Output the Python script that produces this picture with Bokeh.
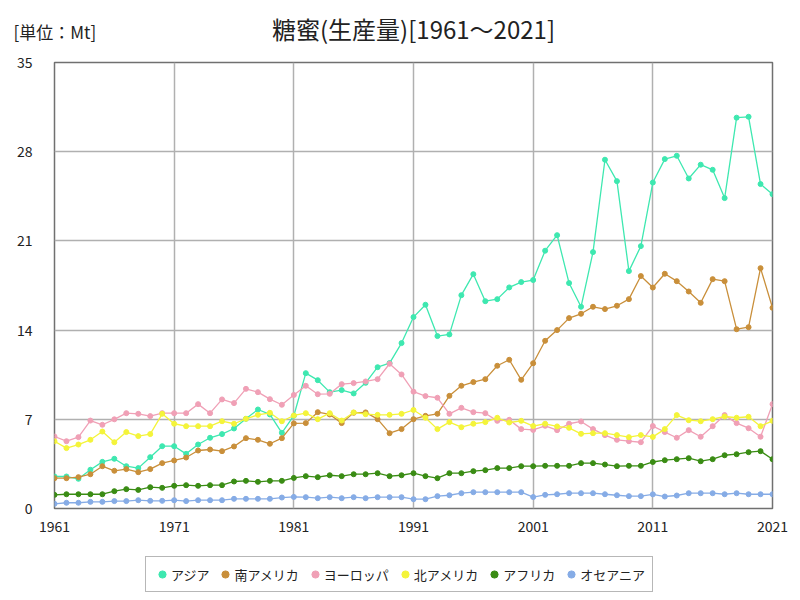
from bokeh.plotting import figure
from bokeh.models import FixedTicker, Legend, LegendItem, Label
from bokeh.layouts import column
from bokeh.embed import file_html
from bokeh.resources import INLINE

years = list(range(1961, 2022))

asia = [2.51, 2.51, 2.33, 3.04, 3.66, 3.90, 3.32, 3.17, 4.03, 4.89,
        4.89, 4.29, 5.02, 5.55, 5.84, 6.28, 7.04, 7.77, 7.38, 5.94,
        7.28, 10.62, 10.07, 9.13, 9.29, 9.03, 9.86, 11.09, 11.41, 12.98,
        15.02, 15.99, 13.53, 13.66, 16.74, 18.39, 16.27, 16.43, 17.35, 17.77,
        17.93, 20.23, 21.45, 17.69, 15.83, 20.12, 27.37, 25.69, 18.63, 20.59,
        25.58, 27.42, 27.68, 25.90, 26.98, 26.58, 24.36, 30.67, 30.74, 25.46,
        24.67]
south_america = [2.38, 2.38, 2.46, 2.69, 3.32, 2.96, 3.09, 2.85, 3.09, 3.56,
                 3.77, 4.00, 4.55, 4.63, 4.50, 4.87, 5.52, 5.39, 5.08, 5.52,
                 6.68, 6.70, 7.56, 7.38, 6.70, 7.51, 7.54, 7.01, 5.91, 6.23,
                 7.01, 7.27, 7.43, 8.84, 9.63, 9.92, 10.15, 11.20, 11.67, 10.10,
                 11.40, 13.16, 14.00, 14.94, 15.28, 15.83, 15.65, 15.91, 16.43, 18.24,
                 17.34, 18.42, 17.84, 17.03, 16.14, 18.00, 17.84, 14.07, 14.23, 18.86,
                 15.75]
europe = [5.65, 5.28, 5.60, 6.90, 6.57, 7.00, 7.48, 7.43, 7.25, 7.48,
          7.48, 7.48, 8.19, 7.48, 8.56, 8.27, 9.39, 9.13, 8.58, 8.14,
          8.91, 9.63, 8.97, 9.00, 9.76, 9.84, 9.97, 10.15, 11.36, 10.52,
          9.17, 8.82, 8.69, 7.43, 7.90, 7.56, 7.48, 6.88, 6.96, 6.23,
          6.17, 6.49, 6.15, 6.65, 6.83, 6.23, 5.76, 5.39, 5.28, 5.20,
          6.47, 6.00, 5.55, 6.15, 5.63, 6.46, 7.33, 6.70, 6.30, 5.63,
          8.19]
north_america = [5.28, 4.74, 5.02, 5.39, 6.04, 5.20, 6.00, 5.68, 5.84, 7.43,
                 6.65, 6.46, 6.46, 6.46, 6.85, 6.65, 7.04, 7.35, 7.51, 6.85,
                 7.30, 7.48, 7.01, 7.48, 6.90, 7.54, 7.40, 7.35, 7.35, 7.43,
                 7.73, 7.12, 6.23, 6.78, 6.38, 6.65, 6.78, 7.12, 6.75, 6.88,
                 6.47, 6.65, 6.44, 6.33, 5.86, 5.91, 5.91, 5.76, 5.60, 5.76,
                 5.62, 6.23, 7.33, 6.93, 6.85, 7.01, 7.22, 7.12, 7.20, 6.46,
                 6.88]
africa = [1.07, 1.12, 1.12, 1.12, 1.12, 1.36, 1.52, 1.46, 1.67, 1.62,
          1.78, 1.83, 1.78, 1.83, 1.83, 2.12, 2.17, 2.09, 2.17, 2.17,
          2.40, 2.54, 2.46, 2.61, 2.54, 2.69, 2.69, 2.77, 2.54, 2.61,
          2.77, 2.54, 2.38, 2.77, 2.77, 2.93, 3.01, 3.17, 3.17, 3.32,
          3.32, 3.35, 3.35, 3.35, 3.56, 3.56, 3.45, 3.32, 3.35, 3.35,
          3.65, 3.79, 3.87, 3.95, 3.71, 3.87, 4.18, 4.26, 4.42, 4.50,
          3.87]
oceania = [0.37, 0.45, 0.45, 0.52, 0.52, 0.58, 0.58, 0.65, 0.60, 0.60,
           0.65, 0.58, 0.65, 0.65, 0.65, 0.76, 0.76, 0.76, 0.76, 0.86,
           0.91, 0.89, 0.81, 0.89, 0.81, 0.89, 0.81, 0.89, 0.89, 0.89,
           0.73, 0.73, 0.97, 1.04, 1.20, 1.28, 1.28, 1.28, 1.28, 1.28,
           0.90, 1.07, 1.12, 1.20, 1.20, 1.20, 1.12, 1.04, 0.97, 0.97,
           1.11, 0.94, 1.02, 1.20, 1.20, 1.20, 1.12, 1.20, 1.12, 1.12,
           1.12]

series_names = ["アジア", "南アメリカ", "ヨーロッパ", "北アメリカ", "アフリカ", "オセアニア"]
series_values = [asia, south_america, europe, north_america, africa, oceania]
series_colors = ["#3ee8b0", "#c98f3a", "#f0a0b6", "#f4f43a", "#3a8c14", "#86ace6"]

y_ticks = [0, 7, 14, 21, 28, 35]
x_ticks = [1961, 1971, 1981, 1991, 2001, 2011, 2021]

title_text = "糖蜜(生産量)[1961～2021]"
unit_text = "[単位：Mt]"

FONT = "Noto Sans CJK JP"
TXT = "#222222"


def no_frame_align(f):
    try:
        f.frame_align = False
    except Exception:
        pass


def blank_panel(h):
    f = figure(width=800, height=h, x_range=(0, 800), y_range=(0, h),
               x_axis_type=None, y_axis_type=None, toolbar_location=None,
               output_backend="svg", min_border=0,
               min_border_left=0, min_border_right=0,
               min_border_top=0, min_border_bottom=0)
    f.outline_line_color = None
    f.background_fill_color = "white"
    f.border_fill_color = "white"
    f.grid.visible = False
    no_frame_align(f)
    return f


# ---- header: title and unit ----
header = blank_panel(50)
header.add_layout(Label(x=413, y=22, text=title_text, text_align="center",
                        text_baseline="middle", text_font=FONT,
                        text_font_size="24px", text_color=TXT))
header.add_layout(Label(x=13, y=19, text=unit_text, text_align="left",
                        text_baseline="middle", text_font=FONT,
                        text_font_size="17px", text_color=TXT))

# ---- main plot ----
p = figure(frame_width=718, frame_height=446, output_backend="svg", toolbar_location=None,
           x_range=(1961, 2021), y_range=(0, 35),
           min_border_left=54, min_border_right=28, min_border_top=12, min_border_bottom=30)
no_frame_align(p)
p.outline_line_color = "#707070"
p.outline_line_width = 1.5
p.background_fill_color = "white"
p.border_fill_color = "white"

for ax in (p.xaxis[0], p.yaxis[0]):
    ax.axis_line_color = None
    ax.major_tick_line_color = None
    ax.minor_tick_line_color = None
    ax.major_label_text_font = FONT
    ax.major_label_text_font_size = "14px"
    ax.major_label_text_color = TXT
p.xaxis[0].ticker = FixedTicker(ticks=x_ticks)
p.yaxis[0].ticker = FixedTicker(ticks=y_ticks)
p.xaxis[0].major_label_standoff = 6
p.yaxis[0].major_label_standoff = 16

p.xgrid[0].grid_line_color = "#b0b0b0"
p.ygrid[0].grid_line_color = "#b0b0b0"
p.xgrid[0].grid_line_width = 1.5
p.ygrid[0].grid_line_width = 1.5
p.xgrid[0].ticker = FixedTicker(ticks=x_ticks)
p.ygrid[0].ticker = FixedTicker(ticks=y_ticks)

for vals, col in zip(series_values, series_colors):
    p.line(years, vals, line_color=col, line_width=1.3)
    p.scatter(years, vals, size=5, fill_color=col, line_color=col)

# ---- footer: legend (its renderers carry the series but stay hidden) ----
footer = blank_panel(62)
items = []
for name, vals, col in zip(series_names, series_values, series_colors):
    r = footer.scatter(years, vals, fill_color=col, line_color=col, visible=False)
    items.append(LegendItem(label=name, renderers=[r]))

legend = Legend(items=items, orientation="horizontal", location=(145, 8),
                border_line_color="#707070", border_line_width=1.5,
                background_fill_color="white", background_fill_alpha=1.0,
                inactive_fill_alpha=0.0,
                label_text_font=FONT, label_text_font_size="13px",
                label_text_color=TXT, label_height=20,
                glyph_width=18, glyph_height=20, label_standoff=0,
                spacing=7, padding=7, margin=0)
footer.add_layout(legend, "center")

layout = column(header, p, footer, spacing=0)
open("out.html", "w").write(file_html(layout, INLINE))
